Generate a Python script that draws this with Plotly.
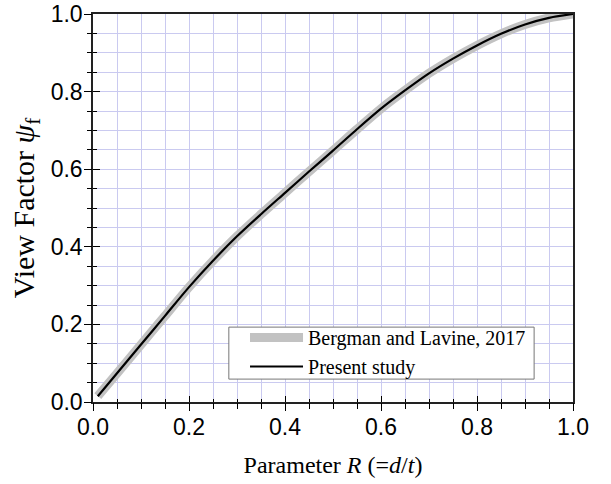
import plotly.graph_objects as go

# Data
R_values = [0.01, 0.05, 0.10, 0.15, 0.20, 0.25, 0.30, 0.35, 0.40, 0.45, 0.50,
            0.55, 0.60, 0.65, 0.70, 0.75, 0.80, 0.85, 0.90, 0.95, 1.00]
bergman_psi = [0.015, 0.074, 0.148, 0.222, 0.296, 0.364, 0.427, 0.484, 0.539, 0.594, 0.648,
               0.703, 0.756, 0.803, 0.847, 0.885, 0.919, 0.949, 0.973, 0.990, 1.000]
present_psi = [0.015, 0.074, 0.148, 0.222, 0.296, 0.364, 0.427, 0.484, 0.539, 0.594, 0.648,
               0.703, 0.756, 0.803, 0.847, 0.885, 0.919, 0.949, 0.973, 0.990, 1.000]
series_names = ["Bergman and Lavine, 2017", "Present study"]
x_title = "Parameter <i>R</i> (=<i>d</i>/<i>t</i>)"
y_title = "View Factor <i>ψ</i><sub>f</sub>"

SERIF = "Times New Roman, Liberation Serif, serif"
SANS = "Arial, Liberation Sans, sans-serif"
GRID = "#cacaf0"

fig = go.Figure()
fig.add_trace(go.Scatter(x=R_values, y=bergman_psi, mode="lines", name=series_names[0],
                         line=dict(color="#c2c2c2", width=9, shape="spline", smoothing=0.8),
                         xaxis="x", yaxis="y"))
fig.add_trace(go.Scatter(x=R_values, y=present_psi, mode="lines", name=series_names[1],
                         line=dict(color="black", width=2.2, shape="spline", smoothing=0.8),
                         xaxis="x", yaxis="y"))
# helper trace so the overlay axes (outside half of crossing ticks) are drawn
fig.add_trace(go.Scatter(x=[None], y=[None], mode="lines", showlegend=False,
                         hoverinfo="skip", xaxis="x2", yaxis="y2"))

axis_common = dict(range=[0, 1], tick0=0, dtick=0.2, zeroline=False, automargin=False)

# legend frame (white box with grey border) behind the real legend
fig.add_shape(type="rect", xref="paper", yref="paper",
              x0=0.283, x1=0.919, y0=0.059, y1=0.193,
              fillcolor="white", line=dict(color="#777", width=1), layer="above")

fig.update_layout(
    width=611, height=484,
    margin=dict(l=93, r=38, t=14, b=82, autoexpand=False),
    paper_bgcolor="white", plot_bgcolor="white",
    showlegend=True,
    xaxis=dict(**axis_common, ticks="inside", ticklen=6, tickwidth=1.3, tickcolor="black",
               showgrid=True, gridcolor=GRID, gridwidth=1,
               minor=dict(dtick=0.05, tick0=0, ticks="inside", ticklen=3, tickwidth=1.2,
                          tickcolor="black", showgrid=True, gridcolor=GRID, gridwidth=1),
               showline=True, linecolor="#222", linewidth=1.5, mirror=True,
               tickformat=".1f", tickfont=dict(family=SANS, size=23, color="black"),
               ticklabeloverflow="allow", ticklabelstandoff=4,
               title=dict(text=x_title, font=dict(family=SERIF, size=24, color="black"),
                          standoff=17)),
    yaxis=dict(**axis_common, ticks="inside", ticklen=7, tickwidth=1.3, tickcolor="black",
               showgrid=True, gridcolor=GRID, gridwidth=1,
               minor=dict(dtick=0.05, tick0=0, ticks="inside", ticklen=4, tickwidth=1.2,
                          tickcolor="black", showgrid=True, gridcolor=GRID, gridwidth=1),
               showline=True, linecolor="#222", linewidth=1.5, mirror=True,
               tickformat=".1f", tickfont=dict(family=SANS, size=23, color="black"),
               ticklabeloverflow="allow", ticklabelstandoff=4,
               title=dict(text=y_title, font=dict(family=SERIF, size=30, color="black"),
                          standoff=7)),
    xaxis2=dict(**axis_common, overlaying="x", anchor="y", side="bottom",
                ticks="outside", ticklen=8, tickwidth=1.3, tickcolor="black",
                minor=dict(dtick=0.05, tick0=0, ticks="outside", ticklen=6, tickwidth=1.2,
                           tickcolor="black", showgrid=False),
                showticklabels=False, showgrid=False, showline=False),
    yaxis2=dict(**axis_common, overlaying="y", anchor="x", side="left",
                ticks="outside", ticklen=8, tickwidth=1.3, tickcolor="black",
                minor=dict(dtick=0.05, tick0=0, ticks="outside", ticklen=5, tickwidth=1.2,
                           tickcolor="black", showgrid=False),
                showticklabels=False, showgrid=False, showline=False),
    legend=dict(x=0.3167, y=0.2165, xanchor="left", yanchor="top",
                bgcolor="rgba(0,0,0,0)", borderwidth=0,
                font=dict(family=SERIF, size=20, color="black"),
                itemwidth=53, tracegroupgap=0),
)

fig.write_html("out.html", config={"displayModeBar": False},
               post_script="document.body.style.margin='0';")
